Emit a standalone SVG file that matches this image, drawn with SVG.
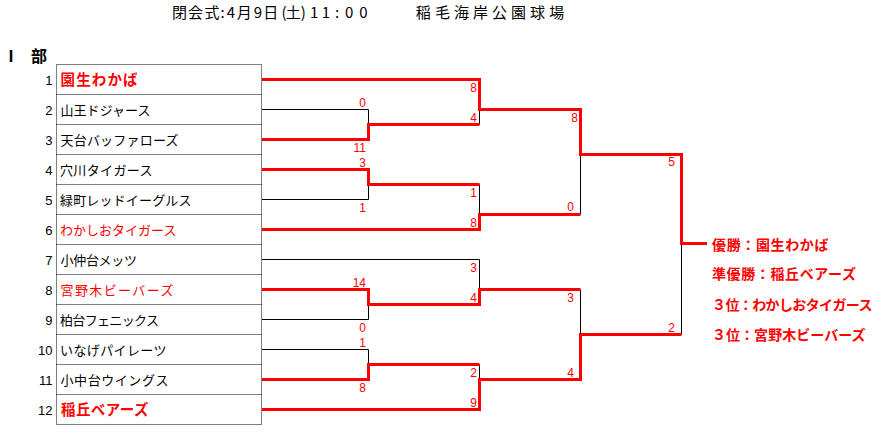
<svg xmlns="http://www.w3.org/2000/svg" width="887" height="442" viewBox="0 0 887 442">
<style>
.jp{font-family:"Noto Sans CJK JP","Noto Sans",sans-serif}
.nm{font-size:13px;fill:#000000}
.nr{font-size:13px;fill:#ff0000}
.win{font-size:14.5px;font-weight:bold;fill:#ff0000}
.num{font-family:"Liberation Sans",Arial,sans-serif;font-size:13px;fill:#000000;text-anchor:end}
.sc{font-family:"Liberation Sans",Arial,sans-serif;font-size:12px;fill:#ff0000;text-anchor:end}
.dot{fill:none;stroke:#000000;stroke-width:1;stroke-dasharray:1 1}
.bl{fill:none;stroke:#000000;stroke-width:1}
.rd{fill:none;stroke:#ff0000;stroke-width:3;stroke-linejoin:miter}
.res{font-size:14px;font-weight:bold;fill:#ff0000}
</style>
<rect x="0" y="0" width="887" height="442" fill="#ffffff"/>
<g id="title">
<text class="jp" y="17.7" font-size="15" text-anchor="middle" fill="#000000" x="179.5 195.5 212 222.5 230.8 244.3 258 270.8 284 293.3 303.3 314.2 325.8 337 349.2 363.3 390 423.3 442.4 461.4 480.5 499.5 518.6 537.6 556.7">閉会式:4月9日(土)11:00 稲毛海岸公園球場</text>
</g>
<g id="division">
<text class="jp" x="3" y="61.6" font-size="16" font-weight="bold" textLength="44" lengthAdjust="spacing" fill="#000000">Ⅰ　部</text>
</g>
<g id="table">
<rect class="dot" x="56.5" y="64.5" width="205" height="360"/>
<path class="dot" d="M56.5,94.5H261.5M56.5,124.5H261.5M56.5,154.5H261.5M56.5,184.5H261.5M56.5,214.5H261.5M56.5,244.5H261.5M56.5,274.5H261.5M56.5,304.5H261.5M56.5,334.5H261.5M56.5,364.5H261.5M56.5,394.5H261.5"/>
</g>
<g id="team-1"><text class="num" x="52.5" y="84.5">1</text><text class="jp win" x="60.5" y="84.5" textLength="77" lengthAdjust="spacing">園生わかば</text></g>
<g id="team-2"><text class="num" x="52.5" y="114.5">2</text><text class="jp nm" x="60.5" y="115" textLength="90" lengthAdjust="spacing">山王ドジャース</text></g>
<g id="team-3"><text class="num" x="52.5" y="144.5">3</text><text class="jp nm" x="60.5" y="145" textLength="118" lengthAdjust="spacing">天台バッファローズ</text></g>
<g id="team-4"><text class="num" x="52.5" y="174.5">4</text><text class="jp nm" x="60" y="175" textLength="92.5" lengthAdjust="spacing">穴川タイガース</text></g>
<g id="team-5"><text class="num" x="52.5" y="204.5">5</text><text class="jp nm" x="60" y="205" textLength="131.5" lengthAdjust="spacing">緑町レッドイーグルス</text></g>
<g id="team-6"><text class="num" x="52.5" y="234.5">6</text><text class="jp nr" x="60" y="235" textLength="116.5" lengthAdjust="spacing">わかしおタイガース</text></g>
<g id="team-7"><text class="num" x="52.5" y="264.5">7</text><text class="jp nm" x="60.5" y="265" textLength="76.5" lengthAdjust="spacing">小仲台メッツ</text></g>
<g id="team-8"><text class="num" x="52.5" y="294.5">8</text><text class="jp nr" x="60.5" y="295" textLength="113" lengthAdjust="spacing">宮野木ビーバーズ</text></g>
<g id="team-9"><text class="num" x="52.5" y="324.5">9</text><text class="jp nm" x="60" y="325" textLength="99" lengthAdjust="spacing">柏台フェニックス</text></g>
<g id="team-10"><text class="num" x="52.5" y="354.5">10</text><text class="jp nm" x="60" y="355" textLength="106.5" lengthAdjust="spacing">いなげパイレーツ</text></g>
<g id="team-11"><text class="num" x="52.5" y="384.5">11</text><text class="jp nm" x="60.5" y="385" textLength="108" lengthAdjust="spacing">小中台ウイングス</text></g>
<g id="team-12"><text class="num" x="52.5" y="414.5">12</text><text class="jp win" x="61" y="414.5" textLength="87.5" lengthAdjust="spacing">稲丘ベアーズ</text></g>
<g id="connectors">
<path class="bl" d="M262,109.5H368.5V124.5M262,199.5H368.5V184.5M479.5,109.5V124.5M479.5,184.5V214.5M580.5,154.5V214.5M681.5,243.5V334.5M262,259.5H479.5V289.5M262,319.5H368.5V304.5M262,349.5H368.5V364.5M479.5,364.5V379.5M580.5,289.5V334.5"/>
<path class="rd" d="M262,79.5H479.5V109.5H580.5V154.5H681.5V243.5H707"/>
<path class="rd" d="M262,139.5H368.5V124.5H479.5"/>
<path class="rd" d="M262,169.5H368.5V184.5H479.5"/>
<path class="rd" d="M262,229.5H479.5V214.5H580.5"/>
<path class="rd" d="M262,289.5H368.5V304.5H479.5V289.5H580.5"/>
<path class="rd" d="M262,379.5H368.5V364.5H479.5"/>
<path class="rd" d="M262,409.5H479.5V379.5H580.5V334.5H681.5"/>
<g id="scores">
<text class="sc" x="366" y="106.5">0</text>
<text class="sc" x="366" y="151.5">11</text>
<text class="sc" x="366" y="166.5">3</text>
<text class="sc" x="366" y="211.5">1</text>
<text class="sc" x="366" y="286.5">14</text>
<text class="sc" x="366" y="331.5">0</text>
<text class="sc" x="366" y="346.5">1</text>
<text class="sc" x="366" y="391.5">8</text>
<text class="sc" x="477" y="92">8</text>
<text class="sc" x="477" y="121.5">4</text>
<text class="sc" x="477" y="196.5">1</text>
<text class="sc" x="477" y="226.5">8</text>
<text class="sc" x="477" y="271.5">3</text>
<text class="sc" x="477" y="301.5">4</text>
<text class="sc" x="477" y="376.5">2</text>
<text class="sc" x="477" y="406.5">9</text>
<text class="sc" x="578" y="121.5">8</text>
<text class="sc" x="574" y="211">0</text>
<text class="sc" x="574" y="301.5">3</text>
<text class="sc" x="574" y="376.5">4</text>
<text class="sc" x="675" y="166">5</text>
<text class="sc" x="675" y="331.5">2</text>
</g>
</g>
<g id="results">
<g id="result-1"><text class="jp res" x="712" y="249.5" textLength="116.5" lengthAdjust="spacing">優勝：園生わかば</text></g>
<g id="result-2"><text class="jp res" x="712" y="278.5" textLength="144" lengthAdjust="spacing">準優勝：稲丘ベアーズ</text></g>
<g id="result-3"><text class="jp res" x="712" y="310" textLength="160.5" lengthAdjust="spacing">３位：わかしおタイガース</text></g>
<g id="result-4"><text class="jp res" x="712" y="339.5" textLength="153.5" lengthAdjust="spacing">３位：宮野木ビーバーズ</text></g>
</g>
</svg>
